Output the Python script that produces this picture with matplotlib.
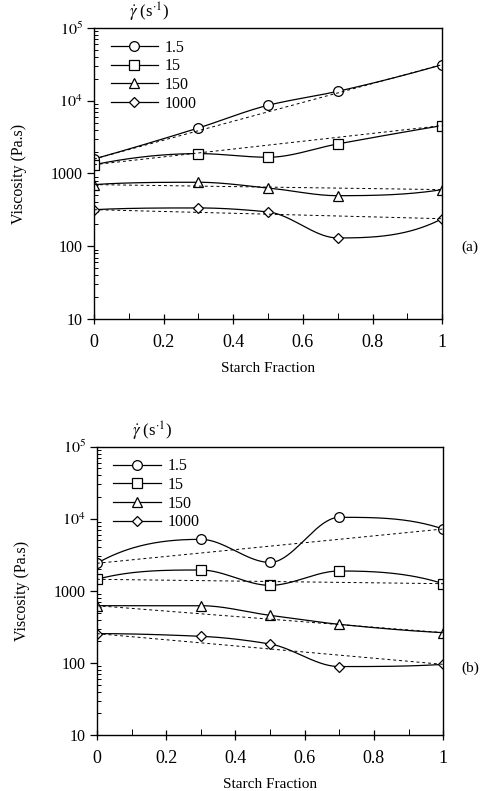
import numpy as np
import matplotlib
matplotlib.use("Agg")
import matplotlib.pyplot as plt
from matplotlib.ticker import LogLocator, FixedLocator, NullFormatter, FixedFormatter

plt.rcParams['font.family'] = ['Liberation Serif', 'DejaVu Serif']
plt.rcParams['mathtext.fontset'] = 'stix'

starch = [0, 0.3, 0.5, 0.7, 1.0]
rates = ['1.5', '15', '150', '1000']

# Panel (a)
a_15 = [1580, 4220, 8650, 13460, 31300]
a_15b = [1320, 1875, 1670, 2545, 4550]
a_150 = [703, 757, 632, 495, 600]
a_1000 = [318, 336, 296, 130, 239]
# Panel (b)
b_15 = [2410, 5180, 2480, 10470, 7210]
b_15b = [1445, 1945, 1192, 1885, 1257]
b_150 = [622, 622, 457, 343, 263]
b_1000 = [255, 234, 183, 89, 95.5]

# dashed mixing-rule lines (endpoints)
mix_x = [0, 1]
a_mix = [[1580, 31300], [1320, 4550], [703, 600], [318, 239]]
b_mix = [[2410, 7210], [1445, 1257], [622, 263], [255, 95.5]]

markers = ['o', 's', '^', 'D']
msizes = [7, 7, 7, 5]


def pchip(x, y, n=200):
    x = np.asarray(x, float); y = np.asarray(y, float)
    h = np.diff(x); delta = np.diff(y) / h
    m = len(x); d = np.zeros(m)
    for k in range(1, m - 1):
        if delta[k - 1] * delta[k] > 0:
            w1 = 2 * h[k] + h[k - 1]; w2 = h[k] + 2 * h[k - 1]
            d[k] = (w1 + w2) / (w1 / delta[k - 1] + w2 / delta[k])
    def end(h0, h1, d0, d1):
        v = ((2 * h0 + h1) * d0 - h0 * d1) / (h0 + h1)
        if np.sign(v) != np.sign(d0):
            v = 0
        elif np.sign(d0) != np.sign(d1) and abs(v) > abs(3 * d0):
            v = 3 * d0
        return v
    d[0] = end(h[0], h[1], delta[0], delta[1])
    d[-1] = end(h[-1], h[-2], delta[-1], delta[-2])
    xs = np.linspace(x[0], x[-1], n); ys = np.empty_like(xs)
    for j, xv in enumerate(xs):
        i = min(np.searchsorted(x, xv, side='right') - 1, m - 2)
        t = (xv - x[i]) / h[i]
        h00 = 2 * t**3 - 3 * t**2 + 1; h10 = t**3 - 2 * t**2 + t
        h01 = -2 * t**3 + 3 * t**2; h11 = t**3 - t**2
        ys[j] = h00 * y[i] + h10 * h[i] * d[i] + h01 * y[i + 1] + h11 * h[i] * d[i + 1]
    return xs, ys


fig = plt.figure(figsize=(4.87, 7.91), dpi=100)
axa = fig.add_axes([0.193, 0.5967, 0.715, 0.368])
axb = fig.add_axes([0.199, 0.0708, 0.711, 0.3645])

for ax, series, mixes, lab, fig_y in [(axa, [a_15, a_15b, a_150, a_1000], a_mix, '(a)', 0.688),
                                      (axb, [b_15, b_15b, b_150, b_1000], b_mix, '(b)', 0.155)]:
    for vals, mk, ms, name, mix in zip(series, markers, msizes, rates, mixes):
        xs, ys = pchip(starch, np.log10(vals))
        ax.plot(xs, 10 ** ys, color='black', lw=0.9)
        ax.plot(starch, vals, linestyle='none', marker=mk, ms=ms, mfc='white', mec='black', mew=0.9)
        ax.plot(mix_x, mix, color='black', lw=0.7, linestyle=(0, (3, 3)))
        ax.plot([], [], color='black', lw=0.9, marker=mk, ms=ms, mfc='white', mec='black', mew=0.9, label=name)
    ax.set_yscale('log')
    ax.set_ylim(10, 1e5)
    ax.set_xlim(0, 1)
    ax.yaxis.set_major_locator(FixedLocator([10, 100, 1000, 1e4, 1e5]))
    ax.yaxis.set_major_formatter(FixedFormatter(['10', '100', '1000', r'$10^4$', r'$10^5$']))
    ax.yaxis.set_minor_locator(LogLocator(base=10, subs=np.arange(2, 10)))
    ax.yaxis.set_minor_formatter(NullFormatter())
    ax.set_xticks([0, 0.2, 0.4, 0.6, 0.8, 1.0])
    ax.set_xticklabels(['0', '0.2', '0.4', '0.6', '0.8', '1'])
    ax.set_xticks([0.1, 0.3, 0.5, 0.7, 0.9], minor=True)
    ax.tick_params(axis='y', which='major', direction='out', length=5, width=0.9, labelsize=11.5, pad=3)
    ax.tick_params(axis='y', which='minor', direction='in', length=3, width=0.7)
    ax.tick_params(axis='x', which='major', direction='inout', length=7, width=0.9, labelsize=13, pad=7)
    ax.tick_params(axis='x', which='minor', direction='in', length=4, width=0.7)
    for s in ax.spines.values():
        s.set_linewidth(1.0)
    ax.set_xlabel('Starch Fraction', fontsize=11, labelpad=8)
    ax.set_ylabel('Viscosity (Pa.s)', fontsize=11.5, labelpad=17)
    leg = ax.legend(loc='upper left', bbox_to_anchor=(0.02, 0.993), frameon=False, fontsize=11.5,
                    handlelength=3.0, handletextpad=0.4, labelspacing=0.17, borderaxespad=0.2)
    ax.text(0.1, 1.012, r'$\dot{\gamma}$ (s$^{\cdot 1}$)', transform=ax.transAxes, fontsize=12,
            ha='left', va='bottom')
    fig.text(0.965, fig_y, lab, fontsize=11, ha='center', va='center')

fig.savefig('out.png', dpi=100)
